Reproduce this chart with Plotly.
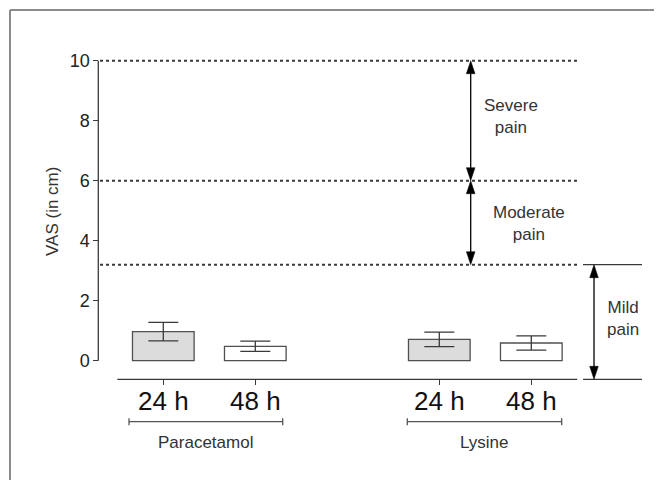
import plotly.graph_objects as go

# ---- data ----
groups = ["Paracetamol", "Lysine"]
times = ["24 h", "48 h", "24 h", "48 h"]
positions = [0, 1, 3, 4]
means = [0.97, 0.48, 0.71, 0.59]
sds = [0.31, 0.17, 0.24, 0.24]
bar_colors = ["#dcdcdc", "#ffffff", "#dcdcdc", "#ffffff"]
pain_levels = [10, 6, 3.2]
pain_labels = ["Severe<br>pain", "Moderate<br>pain", "Mild<br>pain"]
y_ticks = [0, 2, 4, 6, 8, 10]

W, H = 662, 480
OFF = 8  # page body margin in the browser
# axes fill whole figure; ranges chosen so that the chart sits where it should
X0, XU = 163.3 - OFF, 92.0      # px of x=0, px per unit
Y0, YU = 360.7 - OFF, 30.0      # px of y=0, px per unit
x_rng = [-X0 / XU, (W - X0) / XU]
y_rng = [(Y0 - H) / YU, Y0 / YU]


def dx(px):   # window px -> data x
    return (px - OFF - X0) / XU


def dy(py):   # window py -> data y
    return (Y0 - (py - OFF)) / YU


def fx(px):   # window px -> paper x
    return (px - OFF) / W


def fy(py):   # window py -> paper y
    return 1 - (py - OFF) / H


FONT = "Arial, Liberation Sans, sans-serif"
LINE = "#3a3a3a"

fig = go.Figure()
fig.add_trace(go.Bar(
    x=positions, y=means, width=0.67,
    marker=dict(color=bar_colors, line=dict(color="#505050", width=1.3)),
    error_y=dict(type="data", array=sds, visible=True, color=LINE,
                 thickness=1.3, width=15),
    hoverinfo="skip", showlegend=False,
))

shapes = []
annotations = []

# y axis line
yax_x = dx(98.3)
shapes.append(dict(type="line", xref="x", yref="y", x0=yax_x, x1=yax_x,
                   y0=0, y1=10, line=dict(color=LINE, width=1.3)))
# x axis line
xax_y = dy(379.3)
shapes.append(dict(type="line", xref="x", yref="y", x0=-0.5, x1=4.5,
                   y0=xax_y, y1=xax_y, line=dict(color=LINE, width=1.3)))

# dotted pain-level lines
for lv in pain_levels:
    shapes.append(dict(type="line", xref="x", yref="y", x0=dx(100), x1=4.5,
                       y0=lv, y1=lv, line=dict(color=LINE, width=2, dash="dot")))
# solid lines bounding the mild range
for lv in [pain_levels[2], xax_y]:
    shapes.append(dict(type="line", xref="x", yref="y", x0=dx(583), x1=dx(642),
                       y0=lv, y1=lv, line=dict(color=LINE, width=1.3)))


def dbl_arrow(xc, ya, yb):
    hw = 4.3 / XU
    hl = 13 / YU
    shapes.append(dict(type="line", xref="x", yref="y", x0=xc, x1=xc,
                       y0=ya - hl * 0.8, y1=yb + hl * 0.8,
                       line=dict(color="#000", width=1.3)))
    for tip, d in [(ya, -1), (yb, 1)]:
        path = (f"M{xc},{tip} L{xc - hw},{tip + d * hl} "
                f"L{xc + hw},{tip + d * hl} Z")
        shapes.append(dict(type="path", xref="x", yref="y", path=path,
                           fillcolor="#000", line=dict(color="#000", width=0.5)))


ax1 = dx(470.7)
ax2 = dx(594)
dbl_arrow(ax1, pain_levels[0], pain_levels[1])
dbl_arrow(ax1, pain_levels[1], pain_levels[2])
dbl_arrow(ax2, pain_levels[2], xax_y)

# pain labels
label_px = [(511, 117), (529, 224), (623, 318)]
for (px, py), txt in zip(label_px, pain_labels):
    annotations.append(dict(x=fx(px), y=fy(py), xref="paper", yref="paper",
                            text=txt, showarrow=False,
                            font=dict(family=FONT, size=17, color="#333"),
                            xanchor="center", yanchor="middle"))

# group brackets
br_y = dy(421.7)
tk = 3.5 / YU
brackets = [(dx(129), dx(282.7)), (dx(407.3), dx(561.7))]
for (b0, b1), g in zip(brackets, groups):
    shapes.append(dict(type="line", xref="x", yref="y", x0=b0, x1=b1,
                       y0=br_y, y1=br_y, line=dict(color="#555", width=1.3)))
    for bx in (b0, b1):
        shapes.append(dict(type="line", xref="x", yref="y", x0=bx, x1=bx,
                           y0=br_y - tk, y1=br_y + tk,
                           line=dict(color="#555", width=1.3)))
    annotations.append(dict(x=(b0 + b1) / 2, y=dy(442), xref="x", yref="y",
                            text=g, showarrow=False,
                            font=dict(family=FONT, size=17, color="#333"),
                            xanchor="center", yanchor="middle"))

# y title
annotations.append(dict(x=fx(52), y=fy(212), xref="paper", yref="paper",
                        text="VAS (in cm)", textangle=-90, showarrow=False,
                        font=dict(family=FONT, size=17, color="#333"),
                        xanchor="center", yanchor="middle"))

# page frame (top and left)
shapes.append(dict(type="line", xref="paper", yref="paper", x0=fx(10), x1=1.02,
                   y0=fy(10), y1=fy(10), line=dict(color="#8c8c8c", width=2)))
shapes.append(dict(type="line", xref="paper", yref="paper", x0=fx(10), x1=fx(10),
                   y0=-0.02, y1=fy(10), line=dict(color="#8c8c8c", width=2)))

fig.update_layout(
    width=W, height=H,
    margin=dict(l=0, r=0, t=0, b=0),
    paper_bgcolor="white", plot_bgcolor="white",
    shapes=shapes, annotations=annotations,
    xaxis=dict(range=x_rng, domain=[0, 1], anchor="free",
               position=fy(379.3), showgrid=False, zeroline=False,
               showline=False, tickvals=positions, ticktext=times,
               ticks="outside", ticklen=5, tickwidth=1.3, tickcolor=LINE,
               ticklabelstandoff=-7,
               tickfont=dict(family=FONT, size=26, color="#111"),
               automargin=False, fixedrange=True),
    yaxis=dict(range=y_rng, domain=[0, 1], anchor="free",
               position=fx(98.3), showgrid=False, zeroline=False,
               showline=False, tickvals=y_ticks,
               ticks="outside", ticklen=5, tickwidth=1.3, tickcolor=LINE,
               tickfont=dict(family=FONT, size=18, color="#222"),
               automargin=False, fixedrange=True),
    showlegend=False,
)

fig.write_html("out.html")
